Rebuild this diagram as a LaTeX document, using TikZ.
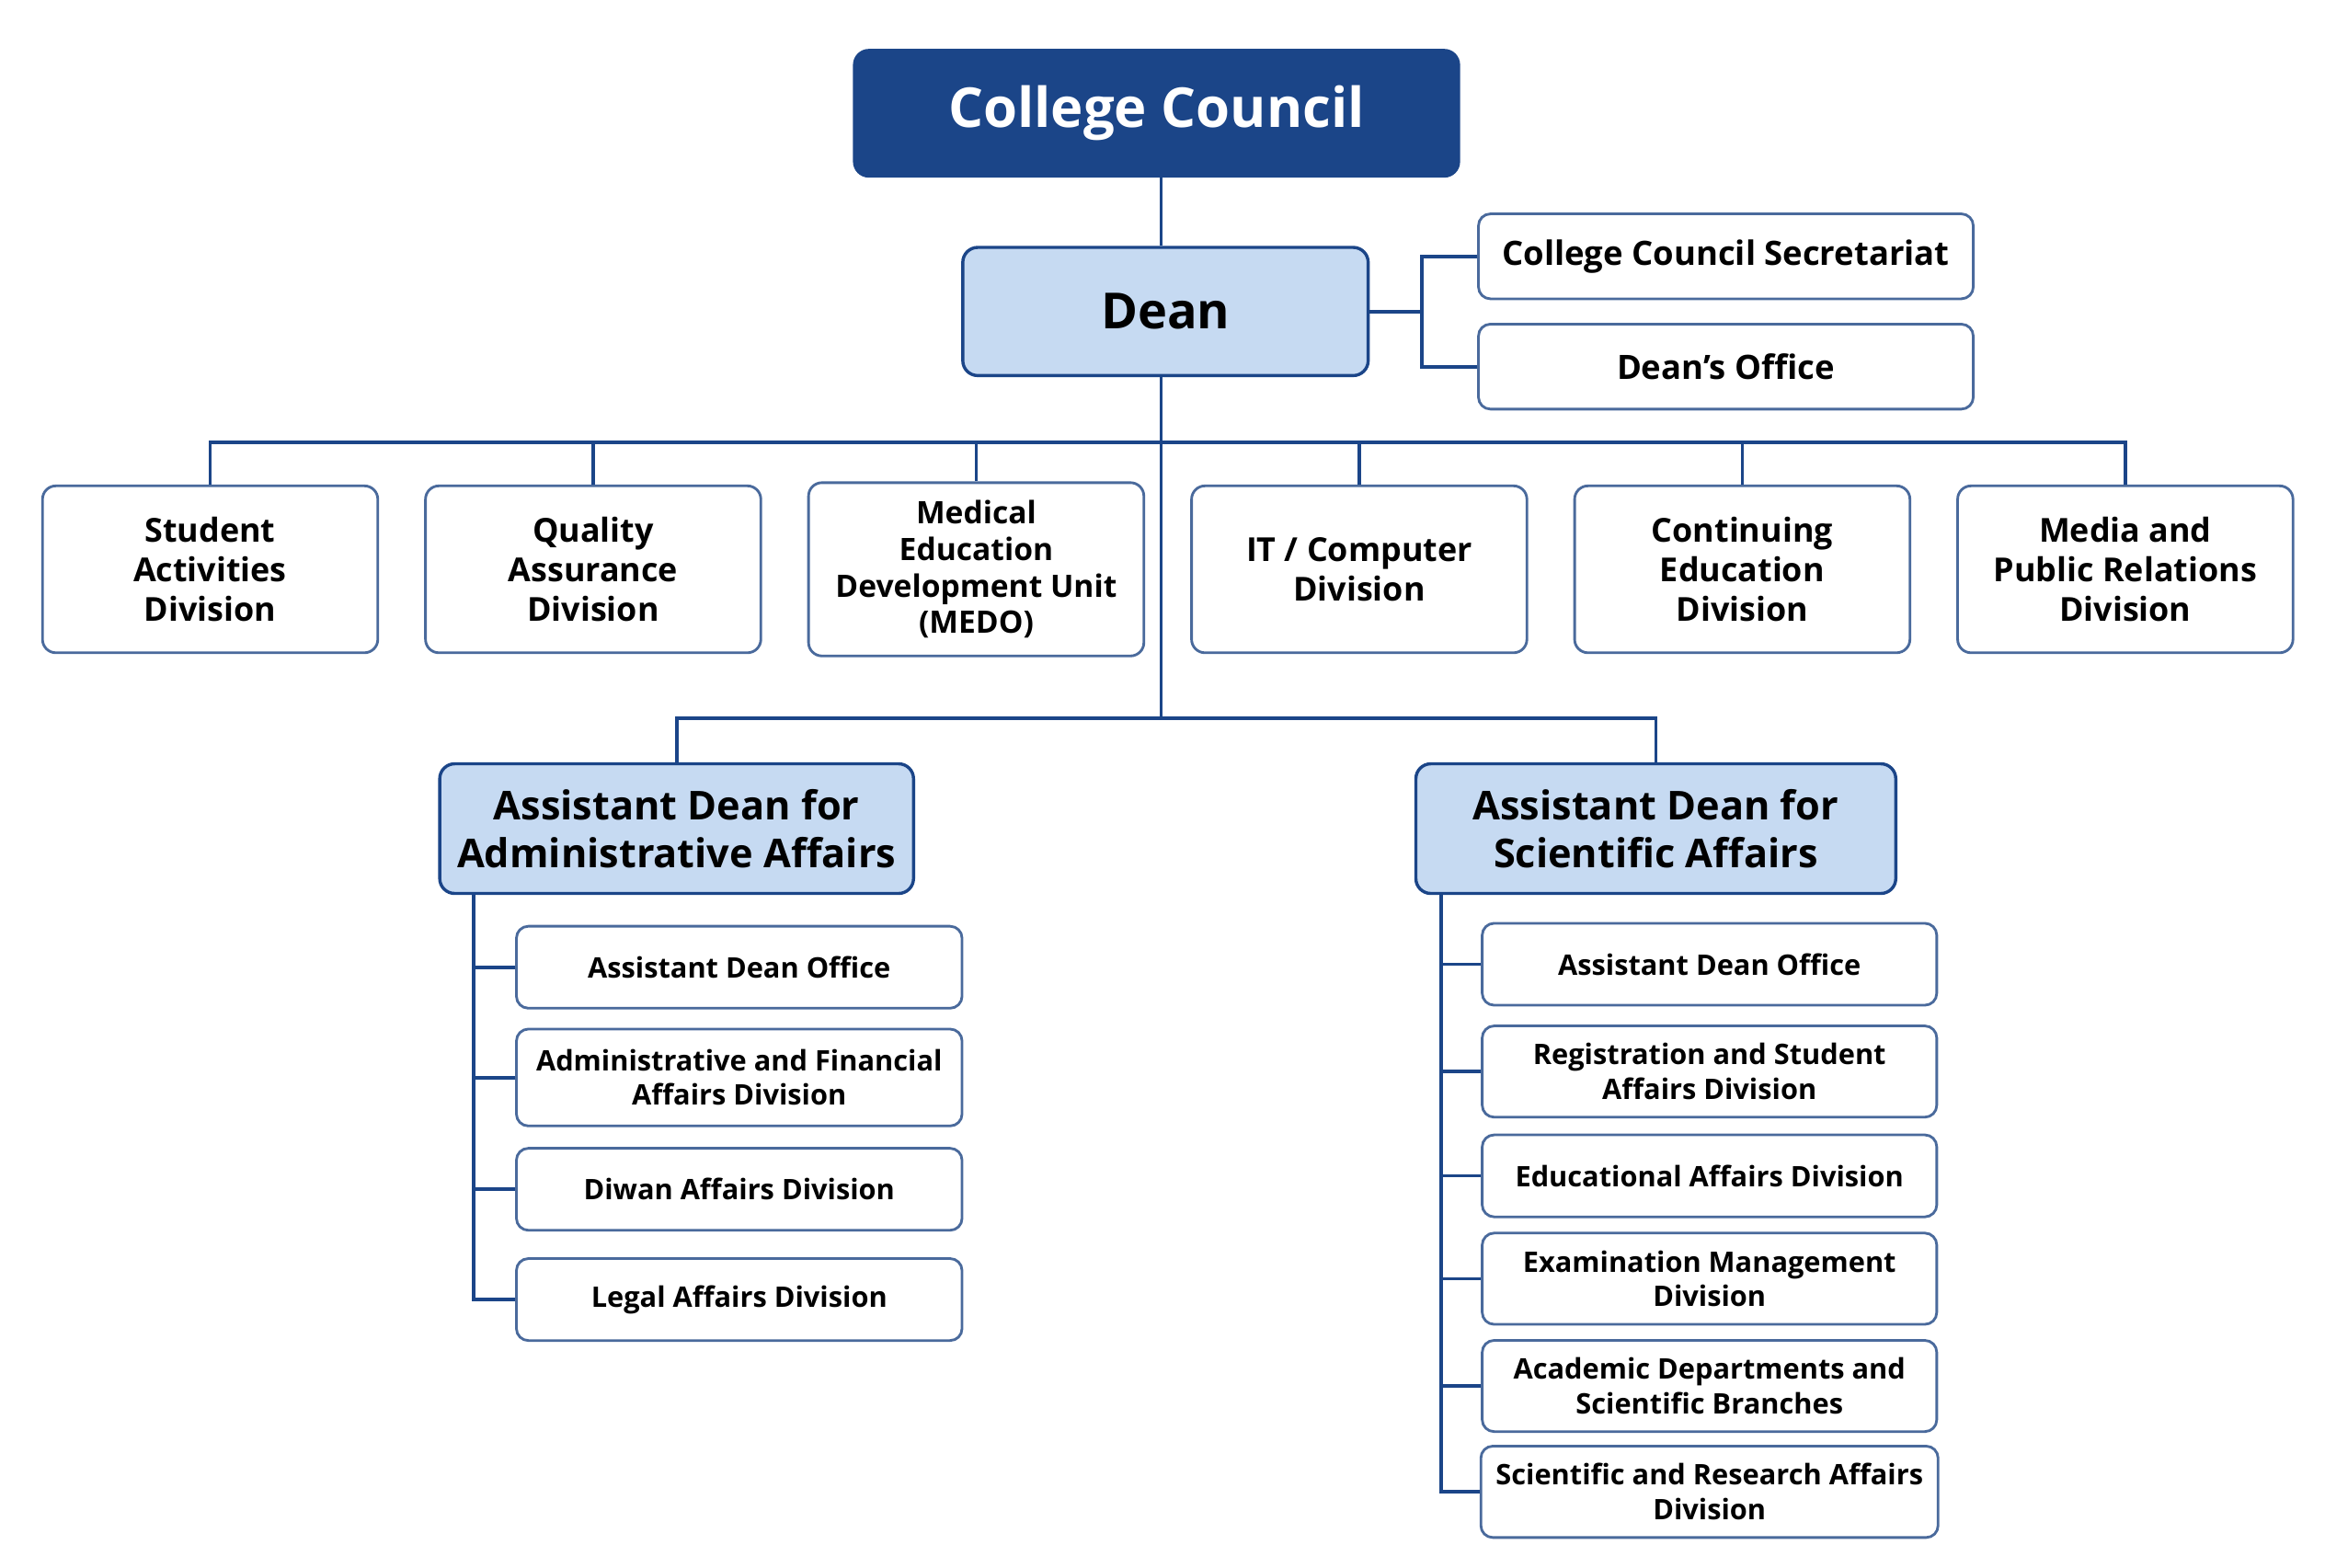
\documentclass[tikz,border=0pt]{standalone}
\usepackage{fontspec}
\setmainfont{Open Sans}
\definecolor{navy}{HTML}{1B4588}
\definecolor{boxline}{HTML}{4A6A9C}
\definecolor{lightfill}{HTML}{C6DAF2}
\tikzset{
  link/.style={draw=navy, line width=0.65pt},
  top/.style={draw=navy, fill=navy, rounded corners=1mm, text=white, font=\fontsize{10.5}{12}\selectfont\bfseries, minimum width=40.6mm, minimum height=8.5mm},
  head/.style={draw=navy, fill=lightfill, rounded corners=1mm, line width=0.6pt, font=\fontsize{7.6}{9}\selectfont\bfseries, align=center},
  unit/.style={draw=boxline, fill=white, rounded corners=0.9mm, line width=0.5pt, font=\fontsize{6.3}{7.6}\selectfont\bfseries, align=center, minimum width=22.5mm, minimum height=11.2mm},
  sub/.style={draw=boxline, fill=white, rounded corners=0.8mm, line width=0.5pt, font=\fontsize{5.4}{6.6}\selectfont\bfseries, align=center, minimum height=5.5mm, inner xsep=1mm}
}
\begin{document}
\begin{tikzpicture}[x=0.1mm, y=-0.1mm]
  \useasboundingbox (0,0) rectangle (1560,1052);
  % top levels
  \node[top] (council) at (776,76) {College Council};
  \node[head, minimum width=27.2mm, minimum height=8.6mm, font=\fontsize{9.5}{12}\selectfont\bfseries] (dean) at (782,209) {Dean};
  \node[sub, minimum width=33.2mm, minimum height=5.7mm, font=\fontsize{6.4}{7.6}\selectfont\bfseries] (secr) at (1158,172) {College Council Secretariat};
  \node[sub, minimum width=33.2mm, minimum height=5.7mm, font=\fontsize{6.4}{7.6}\selectfont\bfseries] (office) at (1158,246) {Dean’s Office};
  \coordinate (fork) at (954,209);
  \coordinate (bar) at (779,297);
  \coordinate (bar2) at (779,482);
  \draw[link] (bar |- council.south) -- (bar |- dean.north);
  \draw[link] (dean.east) -- (fork);
  \draw[link] (secr.west) -| (fork) |- (office.west);
  % divisions
  \node[unit] (sad) at (141,382) {Student\\Activities\\Division};
  \node[unit] (qad) at (398,382) {Quality\\Assurance\\Division};
  \node[unit, font=\fontsize{5.9}{7}\selectfont\bfseries] (medo) at (655,382) {Medical\\Education\\Development Unit\\(MEDO)};
  \node[unit] (itd) at (912,382) {IT / Computer\\Division};
  \node[unit] (ced) at (1169,382) {Continuing\\Education\\Division};
  \node[unit] (mpr) at (1426,382) {Media and\\Public Relations\\Division};
  \draw[link] (sad.north) |- (bar) -| (mpr.north);
  \foreach \n in {qad,medo,itd,ced}
    \draw[link] (\n.north) -- (\n.north |- bar);
  % assistant deans
  \node[head, minimum width=31.6mm, minimum height=8.7mm] (ada) at (454,556) {Assistant Dean for\\Administrative Affairs};
  \node[head, minimum width=32.2mm, minimum height=8.7mm] (ads) at (1111,556) {Assistant Dean for\\Scientific Affairs};
  \draw[link] (bar |- dean.south) -- (bar2);
  \draw[link] (ada.north) |- (bar2) -| (ads.north);
  % administrative side
  \foreach \n/\y/\h/\t in {a1/649/5.5/Assistant Dean Office,
      a2/723/6.5/{Administrative and Financial\\Affairs Division},
      a3/798/5.5/Diwan Affairs Division,
      a4/872/5.5/Legal Affairs Division}
    \node[sub, minimum width=29.9mm, minimum height=\h mm] (\n) at (496,\y) {\t};
  \coordinate (ta) at (318,600);
  \draw[link] (ta) |- (a4.west);
  \foreach \n in {a1,a2,a3}
    \draw[link] (\n.west) -- (ta |- \n.west);
  % scientific side
  \foreach \n/\y/\h/\t in {s1/647/5.5/Assistant Dean Office,
      s2/719/6/{Registration and Student\\Affairs Division},
      s3/789/5.5/Educational Affairs Division,
      s4/858/6/{Examination Management\\Division},
      s5/930/6/{Academic Departments and\\Scientific Branches},
      s6/1001/6/{Scientific and Research Affairs\\Division}}
    \node[sub, minimum width=30.5mm, minimum height=\h mm] (\n) at (1147,\y) {\t};
  \coordinate (ts) at (967,600);
  \draw[link] (ts) |- (s6.west);
  \foreach \n in {s1,s2,s3,s4,s5}
    \draw[link] (\n.west) -- (ts |- \n.west);
\end{tikzpicture}
\end{document}
